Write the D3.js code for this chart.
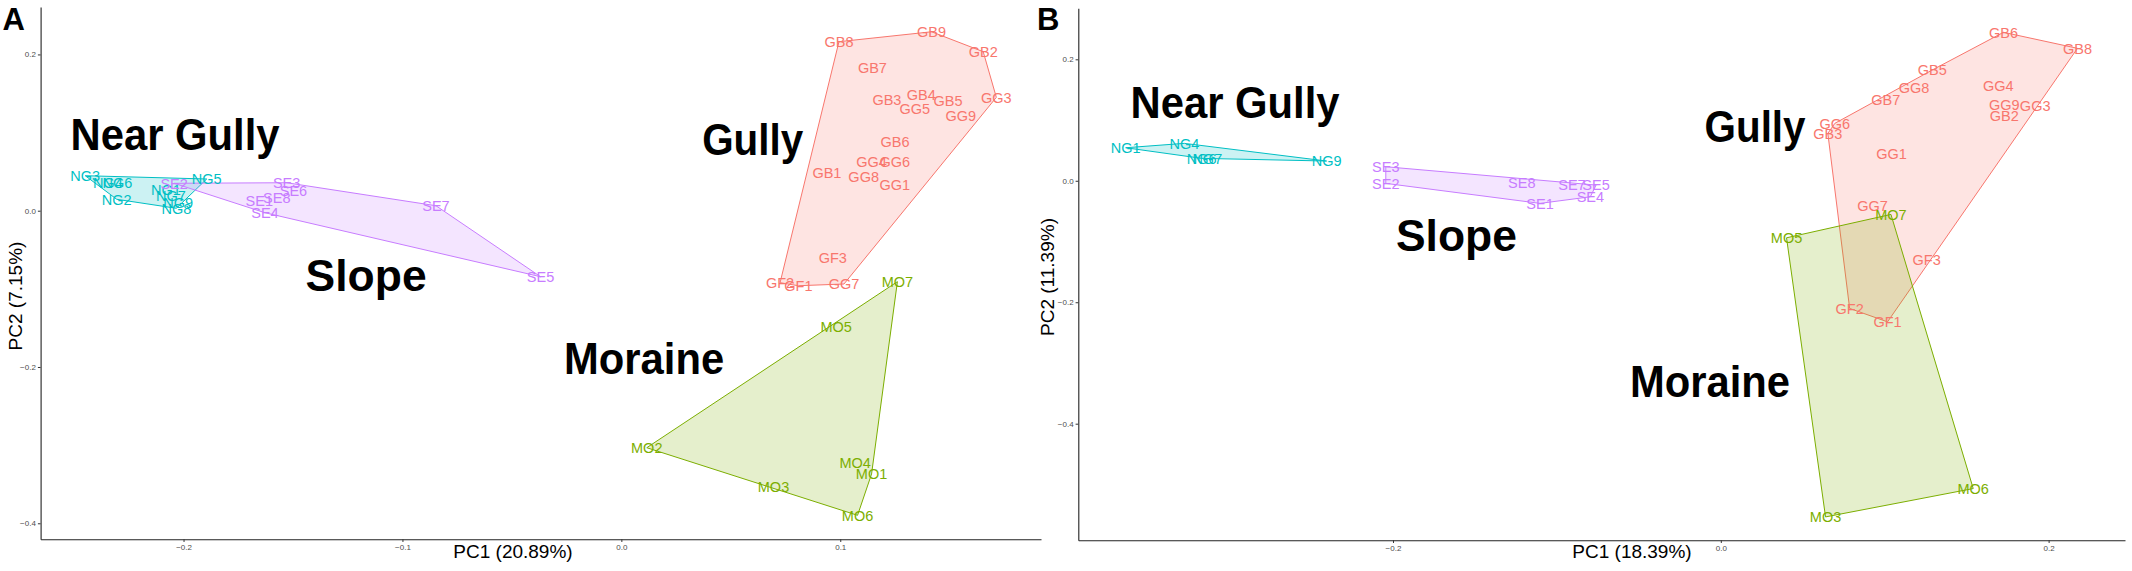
<!DOCTYPE html>
<html>
<head>
<meta charset="utf-8">
<script src="https://cdn.jsdelivr.net/npm/d3@7"></script>
<style>
  body { margin: 0; background: #fff; }
  text { font-family: "Liberation Sans", Arial, sans-serif; }
</style>
</head>
<body>
<svg id="chart" width="2132" height="571"></svg>
<script>
// Panel A points: [sample, PC1, PC2]
const gullyA = [
  ["GB8", 0.0994, 0.2163], ["GB9", 0.1417, 0.2290], ["GB2", 0.1653, 0.2035],
  ["GB7", 0.1147, 0.1830], ["GB3", 0.1213, 0.1417], ["GB4", 0.1370, 0.1489],
  ["GG5", 0.1340, 0.1310], ["GB5", 0.1492, 0.1404], ["GG3", 0.1713, 0.1451],
  ["GG9", 0.1551, 0.1212], ["GB6", 0.1250, 0.0883], ["GG4", 0.1143, 0.0627],
  ["GG6", 0.1249, 0.0627], ["GB1", 0.0939, 0.0486], ["GG8", 0.1107, 0.0435],
  ["GG1", 0.1249, 0.0329], ["GF3", 0.0966, -0.0596], ["GF2", 0.0725, -0.0921],
  ["GF1", 0.0809, -0.0960], ["GG7", 0.1017, -0.0938]
];
const moraineA = [
  ["MO7", 0.1261, -0.0908], ["MO5", 0.0981, -0.1484], ["MO2", 0.0116, -0.3033],
  ["MO4", 0.1068, -0.3225], ["MO1", 0.1143, -0.3369], ["MO3", 0.0695, -0.3532],
  ["MO6", 0.1079, -0.3898]
];
const nearGullyA = [
  ["NG3", -0.2449, 0.0448], ["NG4", -0.2346, 0.0363], ["NG6", -0.2302, 0.0363],
  ["NG2", -0.2305, 0.0146], ["NG1", -0.2080, 0.0274], ["NG7", -0.2058, 0.0188],
  ["NG9", -0.2025, 0.0102], ["NG8", -0.2033, 0.0031], ["NG5", -0.1894, 0.0406]
];
const slopeA = [
  ["SE2", -0.2043, 0.0351], ["SE3", -0.1529, 0.0358], ["SE6", -0.1498, 0.0256],
  ["SE8", -0.1574, 0.0171], ["SE1", -0.1654, 0.0128], ["SE4", -0.1628, -0.0026],
  ["SE7", -0.0847, 0.0064], ["SE5", -0.0369, -0.0845]
];

// Panel B points: [sample, PC1, PC2]
const gullyB = [
  ["GB6", 0.1725, 0.2445], ["GB8", 0.2176, 0.2181], ["GB5", 0.1290, 0.1824],
  ["GG4", 0.1693, 0.1565], ["GG8", 0.1179, 0.1532], ["GB7", 0.1006, 0.1330],
  ["GG9", 0.1729, 0.1247], ["GG3", 0.1918, 0.1231], ["GB2", 0.1729, 0.1066],
  ["GG6", 0.0696, 0.0946], ["GB3", 0.0653, 0.0781], ["GG1", 0.1042, 0.0451],
  ["GG7", 0.0926, -0.0412], ["GF3", 0.1256, -0.1306], ["GF2", 0.0786, -0.2102],
  ["GF1", 0.1017, -0.2323]
];
const moraineB = [
  ["MO7", 0.1038, -0.0554], ["MO5", 0.0401, -0.0939],
  ["MO6", 0.1540, -0.5068], ["MO3", 0.0639, -0.5535]
];
const nearGullyB = [
  ["NG1", -0.3631, 0.0544], ["NG4", -0.3273, 0.0616],
  ["NG6", -0.3167, 0.0369], ["NG7", -0.3133, 0.0369], ["NG9", -0.2405, 0.0325]
];
const slopeB = [
  ["SE3", -0.2044, 0.0231], ["SE2", -0.2044, -0.0043], ["SE8", -0.1214, -0.0033],
  ["SE1", -0.1103, -0.0372], ["SE7", -0.0908, -0.0059], ["SE5", -0.0761, -0.0071],
  ["SE4", -0.0796, -0.0264]
];

const groupNames = ["Gully", "Moraine", "Near Gully", "Slope"];
const groupColors = ["#F8766D", "#7CAE00", "#00BFC4", "#C77CFF"];

// Group annotations: [text, PC1, PC2] (text centre)
const annotA = [["Near Gully", -0.2039, 0.0981], ["Slope", -0.1166, -0.0823],
                ["Gully", 0.0600, 0.0917], ["Moraine", 0.0104, -0.1885]];
const annotB = [["Near Gully", -0.2964, 0.1297], ["Slope", -0.1613, -0.0890],
                ["Gully", 0.0209, 0.0906], ["Moraine", -0.0066, -0.3305]];

const xTicksA = [-0.2, -0.1, 0.0, 0.1];
const yTicksA = [0.2, 0.0, -0.2, -0.4];
const xTicksB = [-0.2, 0.0, 0.2];
const yTicksB = [0.2, 0.0, -0.2, -0.4];

const xDomainA = [-0.2653, 0.1917], yDomainA = [-0.4205, 0.2607];
const xDomainB = [-0.392, 0.2466], yDomainB = [-0.592, 0.284];

const svg = d3.select("#chart");
svg.append("rect").attr("width", 2132).attr("height", 571).attr("fill", "#fff");

function drawPanel(p) {
  let x = d3.scaleLinear().domain(p.xDomain).range([p.left, p.right]);
  let y = d3.scaleLinear().domain(p.yDomain).range([p.bottom, p.top]);
  let g = svg.append("g");

  // hulls first, in group order
  p.groups.forEach((pts, i) => {
    let hull = d3.polygonHull(pts.map(d => [x(d[1]), y(d[2])]));
    if (!hull) hull = pts.map(d => [x(d[1]), y(d[2])]);
    g.append("path")
      .attr("d", "M" + hull.join("L") + "Z")
      .attr("fill", groupColors[i])
      .attr("fill-opacity", 0.2)
      .attr("stroke", groupColors[i])
      .attr("stroke-width", 1);
  });

  // sample labels
  p.groups.forEach((pts, i) => {
    g.selectAll(null).data(pts).enter().append("text")
      .attr("x", d => x(d[1]))
      .attr("y", d => y(d[2]))
      .attr("dy", "0.36em")
      .attr("text-anchor", "middle")
      .attr("font-size", 14.5)
      .attr("fill", groupColors[i])
      .text(d => d[0]);
  });

  // big group names
  const widths = {"Near Gully": 209, "Slope": 121, "Gully": 101, "Moraine": 160};
  g.selectAll(null).data(p.annot).enter().append("text")
    .attr("x", d => x(d[1]))
    .attr("y", d => y(d[2]))
    .attr("dy", "0.35em")
    .attr("text-anchor", "middle")
    .attr("font-family", "Lato, 'Open Sans', sans-serif")
    .attr("font-weight", "bold")
    .attr("font-size", 45)
    .attr("textLength", d => widths[d[0]])
    .attr("lengthAdjust", "spacingAndGlyphs")
    .attr("fill", "#000")
    .text(d => d[0]);

  // axes
  let fmt = d3.format(".1f");
  let xAxis = d3.axisBottom(x).tickValues(p.xTicks).tickFormat(fmt).tickSize(2.7).tickSizeOuter(0).tickPadding(2);
  let yAxis = d3.axisLeft(y).tickValues(p.yTicks).tickFormat(fmt).tickSize(2.7).tickSizeOuter(0).tickPadding(2);

  let gx = g.append("g").attr("transform", `translate(0,${p.bottom})`).call(xAxis);
  let gy = g.append("g").attr("transform", `translate(${p.left},0)`).call(yAxis);
  [gx, gy].forEach(a => {
    a.select(".domain").attr("stroke", "#222").attr("stroke-width", 1.1);
    a.selectAll(".tick line").attr("stroke", "#333");
    a.selectAll(".tick text").attr("fill", "#4D4D4D").attr("font-size", 8)
      .attr("font-family", "'Liberation Sans', Arial, sans-serif");
  });

  // axis titles
  g.append("text")
    .attr("x", p.xTitle[0]).attr("y", p.xTitle[1])
    .attr("text-anchor", "middle").attr("font-size", 19).attr("fill", "#000")
    .text(p.xLabel);
  g.append("text")
    .attr("transform", `translate(${p.yTitle[0]},${p.yTitle[1]}) rotate(-90)`)
    .attr("text-anchor", "middle").attr("font-size", 19).attr("fill", "#000")
    .text(p.yLabel);

  // panel letter
  g.append("text")
    .attr("x", p.letterPos[0]).attr("y", p.letterPos[1])
    .attr("font-size", 31).attr("font-weight", "bold").attr("fill", "#000")
    .text(p.letter);
}

drawPanel({
  groups: [gullyA, moraineA, nearGullyA, slopeA], annot: annotA,
  xDomain: xDomainA, yDomain: yDomainA, xTicks: xTicksA, yTicks: yTicksA,
  left: 40.6, right: 1041, top: 7, bottom: 539.3,
  xLabel: "PC1 (20.89%)", yLabel: "PC2 (7.15%)",
  xTitle: [513, 558], yTitle: [22, 296],
  letter: "A", letterPos: [2.5, 30]
});

drawPanel({
  groups: [gullyB, moraineB, nearGullyB, slopeB], annot: annotB,
  xDomain: xDomainB, yDomain: yDomainB, xTicks: xTicksB, yTicks: yTicksB,
  left: 1078.3, right: 2125, top: 8.3, bottom: 540.3,
  xLabel: "PC1 (18.39%)", yLabel: "PC2 (11.39%)",
  xTitle: [1632, 558], yTitle: [1054, 277],
  letter: "B", letterPos: [1037, 30]
});
</script>
</body>
</html>
